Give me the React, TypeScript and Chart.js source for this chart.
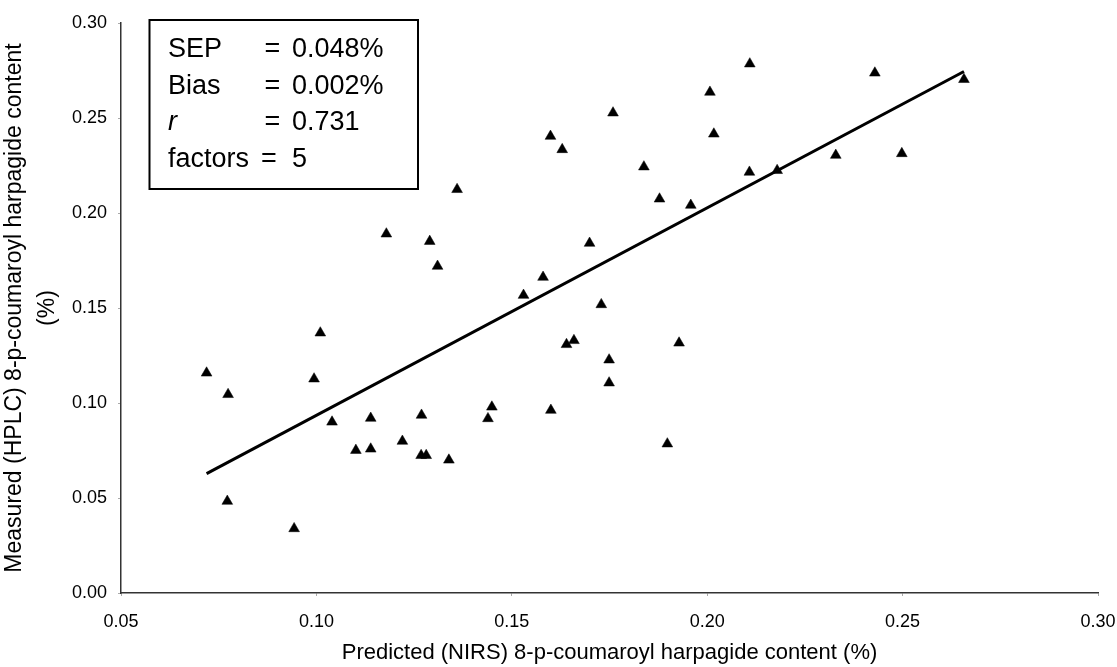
import { useEffect, useRef } from "react";
import { Chart, registerables } from "chart.js";

Chart.register(...registerables);

// Predicted (NIRS) values, x axis
const predicted = [
  0.0719, 0.0774, 0.0772, 0.0943, 0.101, 0.0994, 0.104, 0.1139, 0.1101, 0.1139,
  0.122, 0.1269, 0.1268, 0.1281, 0.1339, 0.136, 0.1179, 0.129, 0.131, 0.153,
  0.158, 0.1729, 0.164, 0.1659, 0.1928, 0.1749, 0.1749, 0.1449, 0.1439, 0.16,
  0.1898, 0.2109, 0.2007, 0.1759, 0.1599, 0.1629, 0.2017, 0.1838, 0.2108, 0.2179,
  0.1878, 0.1958, 0.1699, 0.2429, 0.2657, 0.2329, 0.2498,
];

// Measured (HPLC) values, y axis
const measured = [
  0.1158, 0.1045, 0.0483, 0.0339, 0.1369, 0.1127, 0.09, 0.092, 0.0751, 0.0758,
  0.0799, 0.0936, 0.0724, 0.0724, 0.07, 0.2124, 0.189, 0.1851, 0.172, 0.1567,
  0.1662, 0.1518, 0.1308, 0.1329, 0.1316, 0.1227, 0.1106, 0.0979, 0.0918, 0.0962,
  0.0785, 0.2785, 0.2636, 0.2527, 0.2404, 0.2334, 0.2416, 0.2243, 0.2215, 0.2224,
  0.2074, 0.2041, 0.1841, 0.2737, 0.2703, 0.2304, 0.2313,
];

// Regression line end points
const fitX = [0.0719, 0.2657];
const fitY = [0.0628, 0.2745];

const xTickLabels = ["0.05", "0.10", "0.15", "0.20", "0.25", "0.30"];
const yTickLabels = ["0.00", "0.05", "0.10", "0.15", "0.20", "0.25", "0.30"];

const xTitle = "Predicted (NIRS) 8-p-coumaroyl harpagide content (%)";
const yTitle = ["Measured (HPLC) 8-p-coumaroyl harpagide content", "(%)"];

const statLabels = ["SEP", "Bias", "r", "factors"];
const statValues = ["0.048%", "0.002%", "0.731", "5"];

const FONT = "'Liberation Sans', Arial, sans-serif";

const findLabel = (labels: string[], v: number) =>
  labels.find((l) => Math.abs(parseFloat(l) - v) < 1e-6) ?? "";

const statsBox = {
  id: "statsBox",
  afterDraw(chart: any) {
    const ctx = chart.ctx as CanvasRenderingContext2D;
    ctx.save();
    ctx.strokeStyle = "#000";
    ctx.lineWidth = 2;
    ctx.strokeRect(149.5, 20, 268.5, 169);
    ctx.fillStyle = "#000";
    ctx.textBaseline = "alphabetic";
    const baselines = [57, 93.5, 130, 166.5];
    statLabels.forEach((lab, i) => {
      const italic = lab === "r";
      ctx.font = `${italic ? "italic " : ""}27px ${FONT}`;
      ctx.textAlign = "left";
      ctx.fillText(lab, 168, baselines[i]);
      ctx.font = `27px ${FONT}`;
      ctx.textAlign = "center";
      ctx.fillText("=", lab === "factors" ? 269 : 272.5, baselines[i]);
      ctx.textAlign = "left";
      ctx.fillText(statValues[i], 292, baselines[i]);
    });
    ctx.restore();
  },
};

export default function App() {
  const ref = useRef<HTMLCanvasElement | null>(null);

  useEffect(() => {
    if (!ref.current) return;
    const chart = new Chart(ref.current, {
      type: "scatter",
      data: {
        datasets: [
          {
            type: "line",
            data: fitX.map((x, i) => ({ x, y: fitY[i] })),
            borderColor: "#000",
            borderWidth: 3,
            pointRadius: 0,
            fill: false,
          } as any,
          {
            type: "scatter",
            data: predicted.map((x, i) => ({ x, y: measured[i] })),
            pointStyle: "triangle",
            pointRadius: 6.2,
            backgroundColor: "#000",
            borderColor: "#000",
            borderWidth: 0.5,
          },
        ],
      },
      options: {
        animation: false,
        responsive: false,
        devicePixelRatio: 1,
        layout: { padding: { top: 23, right: 0, bottom: 0, left: 0 } },
        plugins: {
          legend: { display: false },
          tooltip: { enabled: false },
        },
        scales: {
          x: {
            type: "linear",
            min: 0.05,
            max: 0.3,
            afterFit: (s: any) => {
              s.height = 74;
              s.paddingRight = 19;
            },
            border: { display: true, color: "#333", width: 1.5 },
            grid: {
              display: true,
              drawOnChartArea: false,
              drawTicks: true,
              tickLength: 3,
              color: "#aaa",
            },
            ticks: {
              stepSize: 0.05,
              padding: 15,
              color: "#000",
              font: { family: FONT, size: 18 },
              callback: (v: any) => findLabel(xTickLabels, Number(v)),
            },
            title: {
              display: true,
              text: xTitle,
              color: "#000",
              font: { family: FONT, size: 22, lineHeight: 1.2 },
              padding: { top: 0, bottom: 1 },
            },
          },
          y: {
            type: "linear",
            min: 0,
            max: 0.3,
            afterFit: (s: any) => {
              s.width = 121;
            },
            border: { display: true, color: "#333", width: 1.5 },
            grid: {
              display: true,
              drawOnChartArea: false,
              drawTicks: true,
              tickLength: 3,
              color: "#aaa",
            },
            ticks: {
              stepSize: 0.05,
              padding: 11,
              color: "#000",
              font: { family: FONT, size: 18 },
              callback: (v: any) => findLabel(yTickLabels, Number(v)),
            },
            title: {
              display: true,
              text: yTitle,
              color: "#000",
              font: { family: FONT, size: 23, lineHeight: "33px" },
              padding: { top: -2, bottom: 0 },
            },
          },
        },
      },
      plugins: [statsBox],
    });
    return () => chart.destroy();
  }, []);

  return (
    <div style={{ position: "absolute", left: 0, top: 0, width: 1117, height: 667, background: "#fff" }}>
      <canvas ref={ref} width={1117} height={667} />
    </div>
  );
}
